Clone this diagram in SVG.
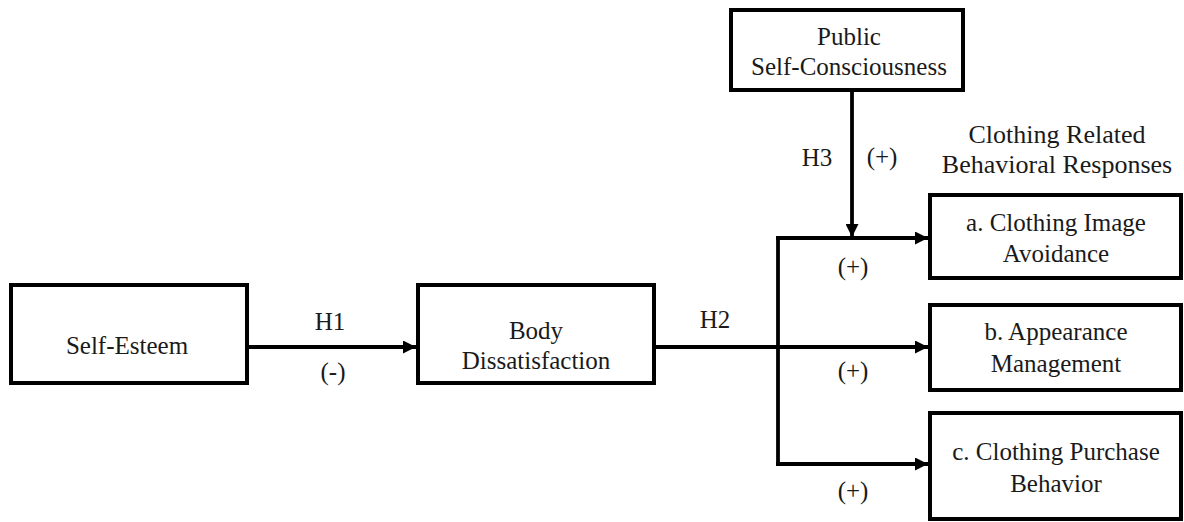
<svg xmlns="http://www.w3.org/2000/svg" width="1184" height="522" viewBox="0 0 1184 522">
  <style>
    .box { fill: #ffffff; stroke: #000000; stroke-width: 4; }
    .txt { font-family: "Liberation Serif", "Times New Roman", serif; font-size: 25px; fill: #1a1a1a; text-anchor: middle; }
    .line { fill: none; stroke: #000000; stroke-width: 3.8; }
  </style>
  <defs>
    <marker id="arrow" markerUnits="userSpaceOnUse" markerWidth="14" markerHeight="13" refX="13" refY="6.5" orient="auto">
      <path d="M0,0 L13,6.5 L0,13 z" fill="#000000"/>
    </marker>
  </defs>

  <!-- connectors -->
  <g id="connectors">
    <line class="line" x1="247" y1="347" x2="416" y2="347" marker-end="url(#arrow)"/>
    <line class="line" x1="654" y1="347" x2="928" y2="347" marker-end="url(#arrow)"/>
    <line class="line" x1="778" y1="236.1" x2="778" y2="465.9"/>
    <line class="line" x1="776.1" y1="238" x2="928" y2="238" marker-end="url(#arrow)"/>
    <line class="line" x1="776.1" y1="464" x2="928" y2="464" marker-end="url(#arrow)"/>
    <line class="line" x1="852" y1="90" x2="852" y2="237" marker-end="url(#arrow)"/>
    <text class="txt" x="330" y="330">H1</text>
    <text class="txt" x="333" y="380">(-)</text>
    <text class="txt" x="715" y="328">H2</text>
    <text class="txt" x="817" y="166">H3</text>
    <text class="txt" x="882" y="165">(+)</text>
    <text class="txt" x="853" y="275">(+)</text>
    <text class="txt" x="853" y="379">(+)</text>
    <text class="txt" x="853" y="499">(+)</text>
  </g>

  <g id="self-esteem">
    <rect class="box" x="11" y="285" width="236" height="98"/>
    <text class="txt" x="127" y="354">Self-Esteem</text>
  </g>

  <g id="body-dissatisfaction">
    <rect class="box" x="418" y="285" width="236" height="98"/>
    <text class="txt" x="536" y="339">Body</text>
    <text class="txt" x="536" y="369">Dissatisfaction</text>
  </g>

  <g id="public-self-consciousness">
    <rect class="box" x="731" y="10" width="232" height="80"/>
    <text class="txt" x="849" y="45">Public</text>
    <text class="txt" x="849" y="75">Self-Consciousness</text>
  </g>

  <g id="responses-heading">
    <text class="txt" x="1057" y="143" style="font-size:26px">Clothing Related</text>
    <text class="txt" x="1057" y="173" style="font-size:26px">Behavioral Responses</text>
  </g>

  <g id="clothing-image-avoidance">
    <rect class="box" x="930" y="195" width="251" height="83"/>
    <text class="txt" x="1056" y="231">a. Clothing Image</text>
    <text class="txt" x="1056" y="262">Avoidance</text>
  </g>

  <g id="appearance-management">
    <rect class="box" x="930" y="305" width="251" height="85"/>
    <text class="txt" x="1056" y="340">b. Appearance</text>
    <text class="txt" x="1056" y="372">Management</text>
  </g>

  <g id="clothing-purchase-behavior">
    <rect class="box" x="930" y="413" width="251" height="106"/>
    <text class="txt" x="1056" y="460">c. Clothing Purchase</text>
    <text class="txt" x="1056" y="492">Behavior</text>
  </g>
</svg>
